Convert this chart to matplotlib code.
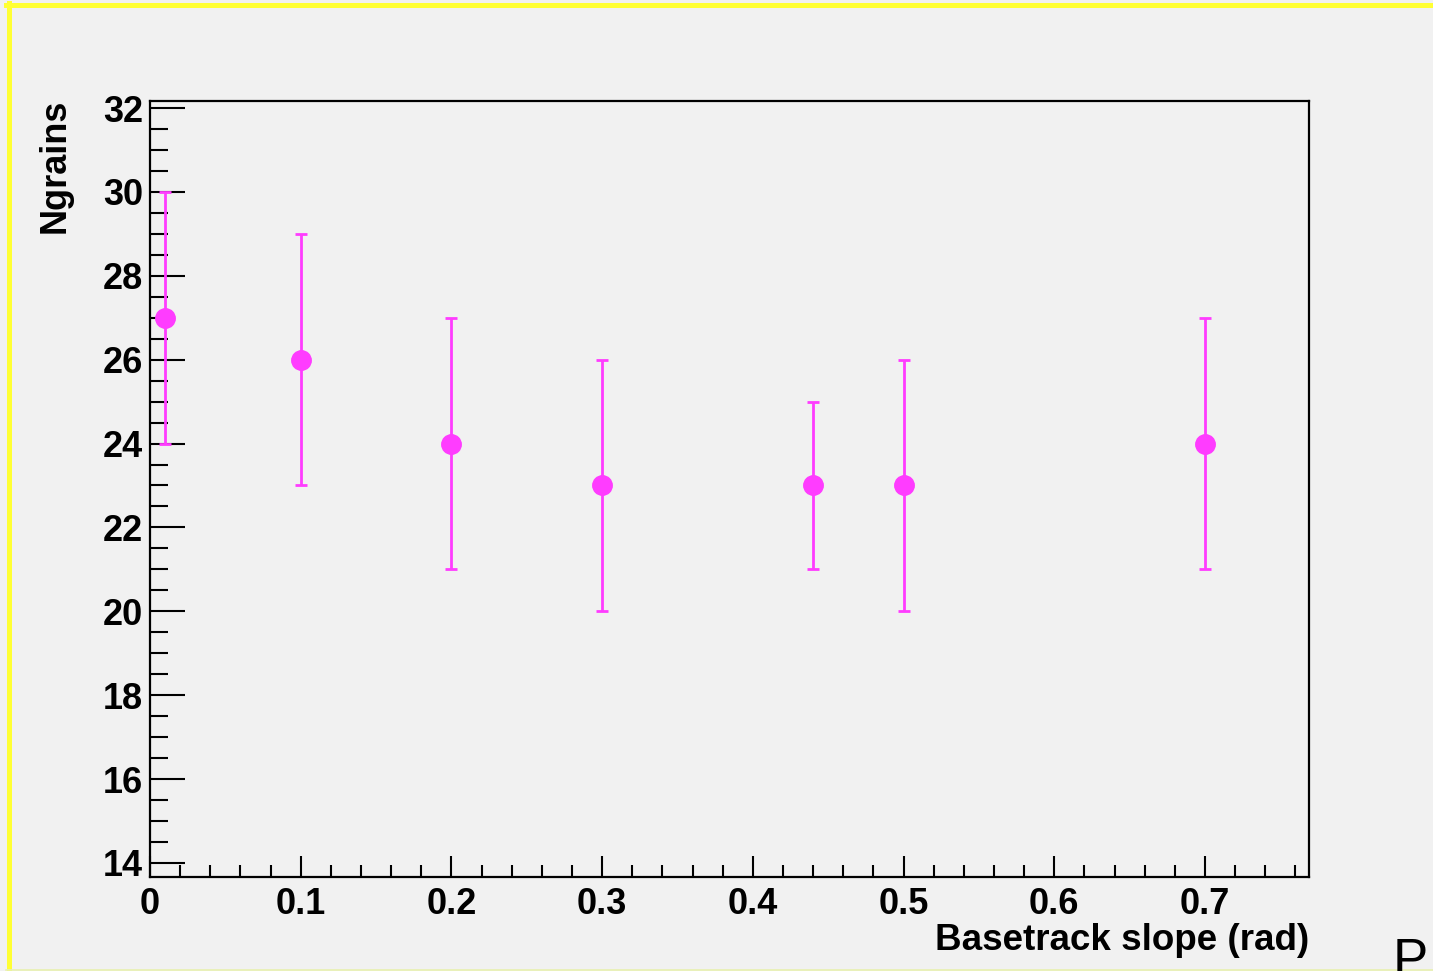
import matplotlib
matplotlib.use("Agg")
import matplotlib.pyplot as plt
from matplotlib.lines import Line2D
from matplotlib.ticker import MultipleLocator

# data
slope = [0.01, 0.1, 0.2, 0.3, 0.44, 0.5, 0.7]
ngrains = [27, 26, 24, 23, 23, 23, 24]
ngrains_err = [3, 3, 3, 3, 2, 3, 3]

W, H = 1433, 971
bg = "#f1f1f1"
magenta = "#ff3cff"

plt.rcParams["font.family"] = ["Liberation Sans", "DejaVu Sans"]

fig = plt.figure(figsize=(W / 100, H / 100), dpi=100, facecolor=bg)
ax = fig.add_axes([150 / W, (H - 877) / H, 1159 / W, 776 / H], facecolor=bg)

ax.errorbar(slope, ngrains, yerr=ngrains_err, fmt="o", color=magenta,
            ecolor=magenta, elinewidth=2, capsize=4.5, capthick=2,
            markersize=14, zorder=3)

ax.set_xlim(0, 0.769)
ax.set_ylim(13.666, 32.167)

ax.xaxis.set_major_locator(MultipleLocator(0.1))
ax.xaxis.set_minor_locator(MultipleLocator(0.02))
ax.yaxis.set_major_locator(MultipleLocator(2))
ax.yaxis.set_minor_locator(MultipleLocator(0.5))
ax.xaxis.set_major_formatter(plt.FuncFormatter(lambda v, p: "0" if abs(v) < 1e-9 else f"{v:.1f}"))

for s in ax.spines.values():
    s.set_linewidth(1.6)
    s.set_color("black")

ax.tick_params(axis="both", which="both", direction="in", top=False, right=False,
               width=1.5, colors="black")
ax.tick_params(axis="y", which="major", length=25, pad=5, labelsize=26)
ax.tick_params(axis="y", which="minor", length=13)
ax.tick_params(axis="x", which="major", length=15, pad=7, labelsize=26)
ax.tick_params(axis="x", which="minor", length=8.5)
for lbl in ax.get_xticklabels() + ax.get_yticklabels():
    lbl.set_fontweight("bold")

ax.text(1.0, -0.059, "Basetrack slope (rad)", transform=ax.transAxes,
        ha="right", va="top", fontsize=26.5, fontweight="bold")
fig.text(55 / W, 1 - 99 / H, "Ngrains", rotation=90, ha="center", va="top",
         fontsize=26, fontweight="bold")

# stray letter cut off at the bottom right
fig.text(1393 / W, 1 - 976 / H, "P", fontsize=38, va="baseline", ha="left")

# yellow frame (left and top), faint line at bottom
fig.add_artist(Line2D([8.5 / W, 8.5 / W], [0, 1 - 3 / H], color="#ffff33",
                      linewidth=3.6, transform=fig.transFigure))
fig.add_artist(Line2D([6 / W, 1], [1 - 5.5 / H, 1 - 5.5 / H], color="#ffff33",
                      linewidth=3.6, transform=fig.transFigure))
fig.add_artist(Line2D([6 / W, 1], [1.5 / H, 1.5 / H], color="#e8f0b0",
                      linewidth=1.2, transform=fig.transFigure))

fig.savefig("out.png", dpi=100, facecolor=bg)
